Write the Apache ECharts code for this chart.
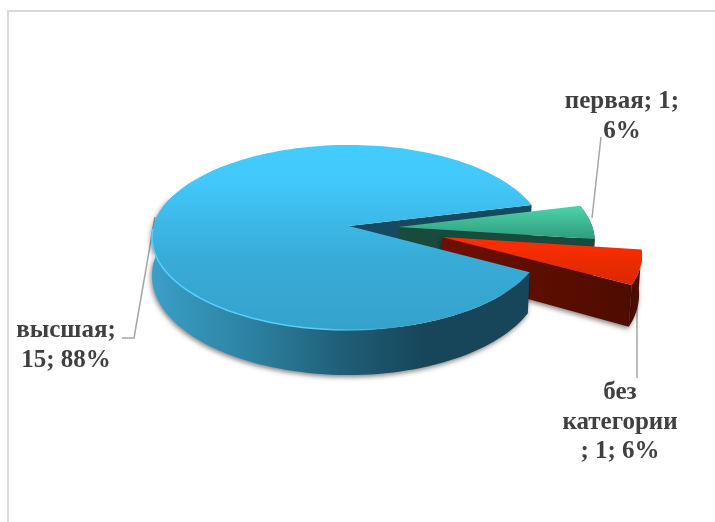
<!DOCTYPE html>
<html><head><meta charset="utf-8">
<script src="https://cdn.jsdelivr.net/npm/echarts@6/dist/echarts.min.js"></script>
<style>html,body{margin:0;padding:0;background:#fff}#c{width:715px;height:522px}</style>
</head><body><div id="c"></div>
<script>
var categories = ['высшая', 'первая', 'без категории'];
var values = [15, 1, 1];
var labelLines = [['высшая;', '15; 88%'], ['первая; 1;', '6%'], ['без', 'категории', '; 1; 6%']];

// projection of the tilted disc
var CX = 349, CY = 226, RX = 195.5, RY = 91.1, K = 0.124, RIGHT_SCALE = 0.99;
var START_DEG = 28.6;
var explode = [[0, 0], [0.256, 0.01], [0.474, 0.12]];
var Grad = echarts.graphic.LinearGradient;
function stops(a) { return a.map(function (s) { return { offset: s[0], color: s[1] }; }); }
function vgrad(y0, y1, a) { return new Grad(0, y0, 0, y1, stops(a), true); }
function hgrad(x0, x1, a) { return new Grad(x0, 0, x1, 0, stops(a), true); }
function proj(u, v, low) {
  var w = 1 - K * v, x = RX * u / w, y = RY * v / w;
  if (x > 0) x *= RIGHT_SCALE;
  if (low) { if (x > 0) x *= RIGHT_SCALE; y += 37 + 8 * v; }
  return [CX + x, CY + y];
}
function pt(off, deg, r, low) {
  var a = deg * Math.PI / 180;
  return proj(off[0] + r * Math.cos(a), off[1] + r * Math.sin(a), low);
}
function arc(off, d0, d1, low) {
  var n = Math.max(2, Math.ceil(Math.abs(d1 - d0) / 2)), out = [];
  for (var i = 0; i <= n; i++) out.push(pt(off, d0 + (d1 - d0) * i / n, 1, low));
  return out;
}
function poly(points, fill, z2, extra) {
  var style = { fill: fill };
  if (extra) for (var k in extra) style[k] = extra[k];
  return { type: 'polygon', z2: z2, shape: { points: points }, style: style, silent: true };
}
var total = values.reduce(function (a, b) { return a + b; }, 0);
var SHADOW = { shadowBlur: 5, shadowColor: 'rgba(0,0,0,0.5)', shadowOffsetY: 2, shadowOffsetX: -1 };

function slice(i) {
  var before = values.slice(0, i).reduce(function (a, b) { return a + b; }, 0);
  var d0 = START_DEG + before / total * 360, d1 = d0 + values[i] / total * 360;
  return { d0: d0, d1: d1, off: explode[i] };
}
function topFace(s) { return [proj(s.off[0], s.off[1])].concat(arc(s.off, s.d0, s.d1)); }
function wall(s, deg) {
  return [proj(s.off[0], s.off[1]), pt(s.off, deg, 1), pt(s.off, deg, 1, true), proj(s.off[0], s.off[1], true)];
}
function renderItem(params) {
  var i = params.dataIndex, s = slice(i), ch = [];
  if (i === 0) {
    ch.push(poly(wall(s, s.d1), '#174a60', 1));
    var rimEnd = 200;
    ch.push(poly(arc(s.off, s.d0, rimEnd).concat(arc(s.off, rimEnd, s.d0, true)),
      hgrad(152, 530, [[0, '#3a9fc8'], [0.28, '#2c7f9e'], [0.5, '#205e77'], [0.72, '#17465a'], [1, '#17465a']]), 20, SHADOW));
    ch.push(poly(topFace(s), vgrad(145, 330, [[0, '#44ccff'], [0.2, '#42c8fa'], [0.6, '#38acd8'], [1, '#35a2cb']]), 21));
    ch.push({ type: 'polyline', z2: 22, silent: true, shape: { points: arc(s.off, 70, 178) },
      style: { fill: null, lineWidth: 1.5, stroke: hgrad(152, 400, [[0, '#56d2ff'], [0.7, '#58ccf8'], [1, 'rgba(70,190,235,0)']]) } });
  } else if (i === 1) {
    ch.push(poly(wall(s, s.d1), '#1a4a3c', 3));
    ch.push(poly(arc(s.off, s.d0, s.d1).concat(arc(s.off, s.d1, s.d0, true)), '#1a4a3c', 3));
    ch.push(poly(topFace(s), vgrad(203, 240, [[0, '#50d8ad'], [1, '#2f9a7c']]), 4));
  } else {
    ch.push(poly(arc(s.off, s.d0, s.d1).concat(arc(s.off, s.d1, s.d0, true)), '#4f0c00', 5, SHADOW));
    ch.push(poly(wall(s, s.d1), hgrad(443, 640, [[0, '#6e1000'], [0.5, '#5c0e00'], [1, '#4c0b00']]), 6, SHADOW));
    ch.push(poly(topFace(s), vgrad(238, 284, [[0, '#ff2e00'], [1, '#dc2800']]), 7));
  }
  return { type: 'group', children: ch };
}

var labelPos = [[66, 331], [622, 102], [620, 393]];
var LINE_H = 29.5;
var graphics = [
  { type: 'polyline', z: 1, shape: { points: [[8, 522], [8, 11], [715, 11]] }, style: { fill: null, stroke: '#d9d9d9', lineWidth: 2 }, silent: true },
  { type: 'polyline', z: 1, shape: { points: [[122, 338], [134, 338], [155, 217]] }, style: { fill: null, stroke: '#a6a6a6', lineWidth: 1.5 }, silent: true },
  { type: 'polyline', z: 1, shape: { points: [[601, 137], [592, 218]] }, style: { fill: null, stroke: '#a6a6a6', lineWidth: 1.5 }, silent: true },
  { type: 'polyline', z: 1, shape: { points: [[637, 305], [637, 378]] }, style: { fill: null, stroke: '#a6a6a6', lineWidth: 1.5 }, silent: true }
];
labelLines.forEach(function (lines, i) {
  lines.forEach(function (t, j) {
    graphics.push({ type: 'text', z: 100, x: labelPos[i][0], y: labelPos[i][1] + j * LINE_H,
      style: { text: t, fill: '#404040', font: 'bold 25px "Liberation Serif", serif', textAlign: 'center', textVerticalAlign: 'middle' } });
  });
});
var chart = echarts.init(document.getElementById('c'), null, { renderer: 'canvas' });
chart.setOption({
  animation: false,
  backgroundColor: '#ffffff',
  graphic: graphics,
  series: [{ type: 'custom', coordinateSystem: 'none', z: 10, renderItem: renderItem,
    data: categories.map(function (c, i) { return { name: c, value: values[i] }; }) }]
});
</script></body></html>
